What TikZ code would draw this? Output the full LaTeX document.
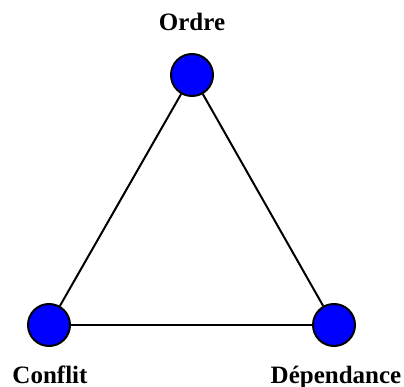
\documentclass[tikz,border=0pt]{standalone}
\usepackage{fontspec}
\setmainfont{Liberation Serif}
\begin{document}
\begin{tikzpicture}[x=1pt,y=-1pt,
  dot/.style={circle,draw=black,fill=blue,line width=2pt,minimum size=42pt,inner sep=0pt},
  lbl/.style={anchor=base,font=\fontsize{25}{28}\selectfont\bfseries,inner sep=0pt},
  edge/.style={line width=2pt}]
\useasboundingbox (0,0) rectangle (404,387);
\node[dot] (o) at (192,75) {};
\node[dot] (c) at (49,325) {};
\node[dot] (d) at (334,325) {};
\draw[edge] (o) -- (c);
\draw[edge] (o) -- (d);
\draw[edge] (c) -- (d);
\node[lbl] (lo) at (192,31) {Ordre};
\node[lbl] (lc) at (50,383) {Conflit};
\node[lbl] (ld) at (336,383) {Dépendance};
\end{tikzpicture}
\end{document}
